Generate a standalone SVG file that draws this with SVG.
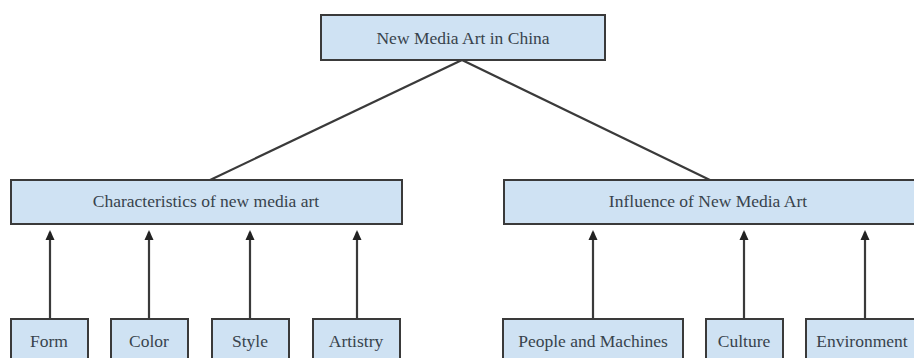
<svg xmlns="http://www.w3.org/2000/svg" width="914" height="358" viewBox="0 0 914 358">
<style>
.box{fill:#cfe2f3;stroke:#3a3a3a;stroke-width:2}
.t{font-family:"Liberation Serif","Times New Roman",serif;font-size:17.5px;fill:#38424c;text-anchor:middle;dominant-baseline:central}
.c{stroke:#3a3a3a;stroke-width:2.2;fill:none}
</style>
<defs>
<marker id="ah" markerWidth="10" markerHeight="10" refX="8" refY="5" orient="auto" markerUnits="userSpaceOnUse">
<path d="M0,0.5 L10,5 L0,9.5 z" fill="#222"/>
</marker>
</defs>
<rect width="914" height="358" fill="#fff"/>
<g id="connectors">
<path class="c" d="M462,60 L208,181"/>
<path class="c" d="M462,60 L712,181"/>
<path class="c" d="M50,318 L50,232" marker-end="url(#ah)"/>
<path class="c" d="M149,318 L149,232" marker-end="url(#ah)"/>
<path class="c" d="M250,318 L250,232" marker-end="url(#ah)"/>
<path class="c" d="M357,318 L357,232" marker-end="url(#ah)"/>
<path class="c" d="M593,318 L593,232" marker-end="url(#ah)"/>
<path class="c" d="M744,318 L744,232" marker-end="url(#ah)"/>
<path class="c" d="M865,318 L865,232" marker-end="url(#ah)"/>
</g>
<g id="n-root"><rect class="box" x="321" y="15" width="284" height="45"/><text class="t" x="463" y="38">New Media Art in China</text></g>
<g id="n-char"><rect class="box" x="11" y="180" width="391" height="44"/><text class="t" x="206" y="201">Characteristics of new media art</text></g>
<g id="n-infl"><rect class="box" x="504" y="180" width="420" height="44"/><text class="t" x="708" y="201">Influence of New Media Art</text></g>
<g id="n-form"><rect class="box" x="11" y="319" width="77" height="50"/><text class="t" x="49" y="341">Form</text></g>
<g id="n-color"><rect class="box" x="111" y="319" width="77" height="50"/><text class="t" x="149" y="341">Color</text></g>
<g id="n-style"><rect class="box" x="212" y="319" width="77" height="50"/><text class="t" x="250" y="341">Style</text></g>
<g id="n-artistry"><rect class="box" x="313" y="319" width="87" height="50"/><text class="t" x="356" y="341">Artistry</text></g>
<g id="n-people"><rect class="box" x="503" y="319" width="180" height="50"/><text class="t" x="593" y="341">People and Machines</text></g>
<g id="n-culture"><rect class="box" x="706" y="319" width="77" height="50"/><text class="t" x="744" y="341">Culture</text></g>
<g id="n-env"><rect class="box" x="806" y="319" width="120" height="50"/><text class="t" x="862" y="341">Environment</text></g>
</svg>
